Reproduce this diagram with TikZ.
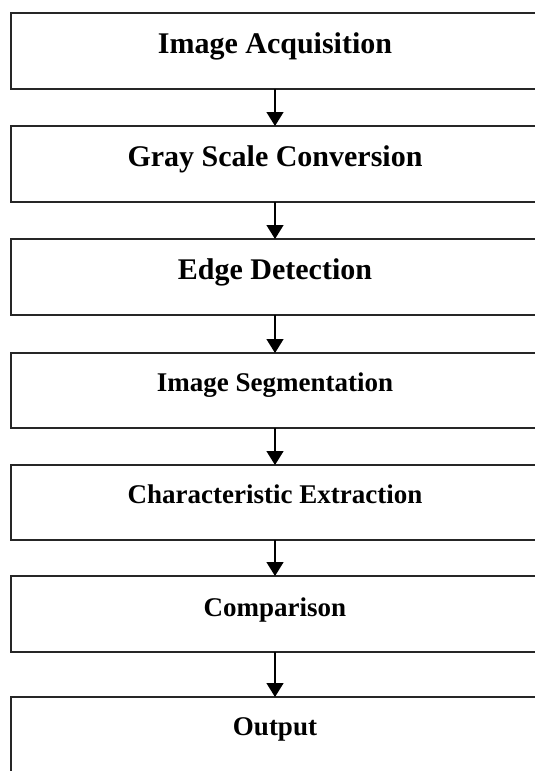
\documentclass[tikz,border=0pt]{standalone}
\usepackage{fontspec}
\setmainfont{Liberation Serif}
\usepackage{tikz}
\usetikzlibrary{positioning,arrows.meta}
\tikzset{
    step-box/.style = {draw=black!85, line width=1.4pt, rectangle, inner sep=0pt, outer sep=0pt, minimum width=528pt, minimum height=76pt, text height=40pt, text depth=36pt, font=\bfseries\fontsize{30}{30}\selectfont},
    step-box-small/.style = {step-box, minimum height=75pt, text height=38pt, text depth=37pt, font=\bfseries\fontsize{27}{27}\selectfont},
    flow-arrow/.style = {line width=1.4pt, -{Triangle[length=14pt,width=17pt]}},
}

\begin{document}
\begin{tikzpicture}[x=1pt,y=-1pt]
\useasboundingbox (0,0) rectangle (535,771);
\clip (0,0) rectangle (535,771);
\node [step-box, anchor=north] (acq) at (275,13) {Image Acquisition};
\node [step-box, below=37pt of acq] (gray) {Gray Scale Conversion};
\node [step-box, below=37pt of gray] (edge) {Edge Detection};
\node [step-box-small, below=38pt of edge] (seg) {Image Segmentation};
\node [step-box-small, below=37pt of seg] (feat) {Characteristic Extraction};
\node [step-box, below=36pt of feat] (comp) {\fontsize{27}{27}\selectfont Comparison};
\node [step-box-small, below=45pt of comp] (out) {Output};
\draw [flow-arrow] (acq) -- (gray);
\draw [flow-arrow] (gray) -- (edge);
\draw [flow-arrow] (edge) -- (seg);
\draw [flow-arrow] (seg) -- (feat);
\draw [flow-arrow] (feat) -- (comp);
\draw [flow-arrow] (comp) -- (out);
\end{tikzpicture}
\end{document}
